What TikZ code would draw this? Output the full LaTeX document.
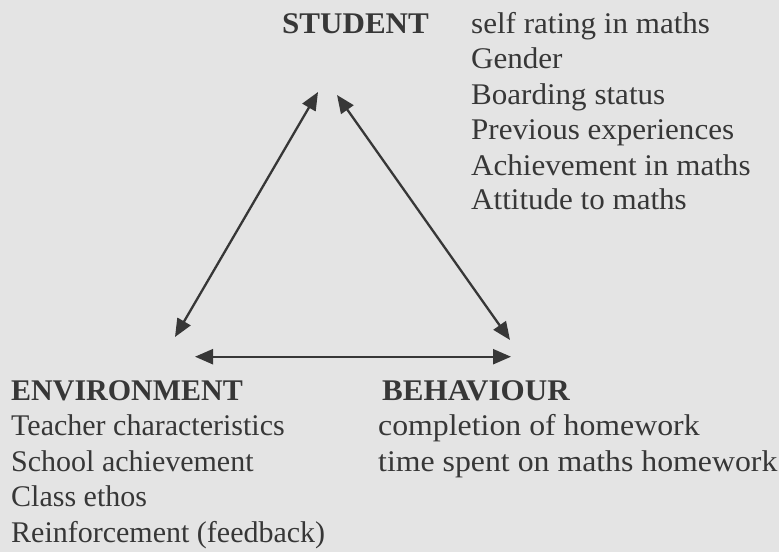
\documentclass[tikz,border=0pt]{standalone}
\usepackage{fontspec}
\setmainfont{Liberation Serif}
\newfontfamily\stretchA[FakeStretch=1.035]{Liberation Serif}
\newfontfamily\stretchB[FakeStretch=1.06]{Liberation Serif}
\usetikzlibrary{arrows.meta}
\definecolor{bg}{RGB}{228,228,228}
\definecolor{ink}{RGB}{55,55,55}
\begin{document}
\begin{tikzpicture}[x=1pt,y=-1pt,
  txt/.style={anchor=base west, inner sep=0pt, text=ink, font=\fontsize{30}{35.5}\selectfont},
  txtA/.style={txt, font=\stretchA\fontsize{30}{35.5}\selectfont},
  txtB/.style={txt, font=\stretchB\fontsize{30}{35.5}\selectfont},
  head/.style={txt, font=\fontsize{30}{35.5}\selectfont\bfseries},
  headA/.style={txt, font=\stretchA\fontsize{30}{35.5}\selectfont\bfseries},
  link/.style={draw=ink, line width=2.3pt, {Triangle[length=18pt,width=15pt]}-{Triangle[length=18pt,width=15pt]}}]
\fill[bg] (0,0) rectangle (779,552);
\useasboundingbox (0,0) rectangle (779,552);
% headings
\node[headA] (student) at (282,33.3) {STUDENT};
\node[head] (environment) at (11,400.7) {ENVIRONMENT};
\node[headA] (behaviour) at (382,400.5) {BEHAVIOUR};
% student list
\node[txtA] (s1) at (471,33.3) {self rating in maths};
\node[txtA] (s2) at (471,68.8) {Gender};
\node[txtA] (s3) at (471,104.3) {Boarding status};
\node[txtA] (s4) at (471,139.8) {Previous experiences};
\node[txtA] (s5) at (471,175) {Achievement in maths};
\node[txtA] (s6) at (471,209.8) {Attitude to maths};
% environment list
\node[txt] (e1) at (11,435.7) {Teacher characteristics};
\node[txt] (e2) at (11,471.2) {School achievement};
\node[txt] (e3) at (11,506.7) {Class ethos};
\node[txt] (e4) at (11,542.2) {Reinforcement (feedback)};
% behaviour list
\node[txtB] (b1) at (378,435.5) {completion of homework};
\node[txtB] (b2) at (378,471) {time spent on maths homework};
% arrow ends
\coordinate (stuL) at (318,92);
\coordinate (stuR) at (337,95);
\coordinate (envT) at (175,337);
\coordinate (behT) at (510,340);
\coordinate (envH) at (195,356.7);
\coordinate (behH) at (511,356.7);
\draw[link] (envT) -- (stuL);
\draw[link] (stuR) -- (behT);
\draw[link] (envH) -- (behH);
\end{tikzpicture}
\end{document}
